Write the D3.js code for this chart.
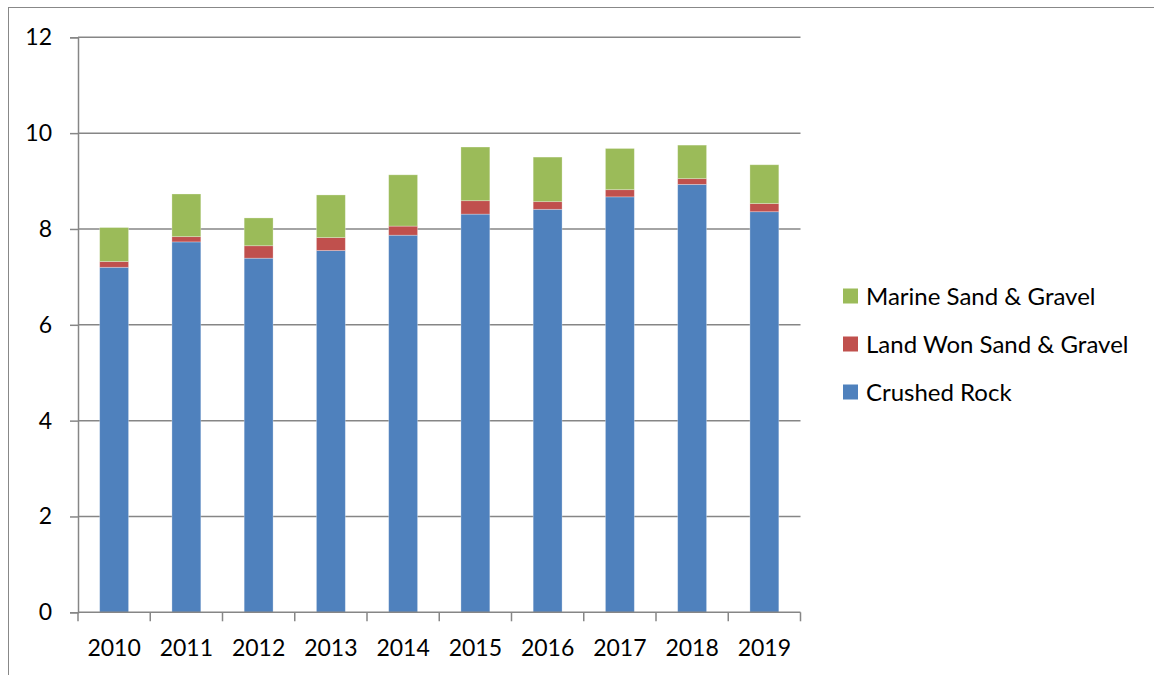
<html>
<head>
<script src="https://cdn.jsdelivr.net/npm/d3@7/dist/d3.min.js"></script>
<style>
  body { margin: 0; background: #fff; }
  text { font-family: Lato, "Open Sans", sans-serif; fill: #000; }
</style>
</head>
<body>
<script>
// data (million tonnes)
var years = ["2010", "2011", "2012", "2013", "2014", "2015", "2016", "2017", "2018", "2019"];
var crushedRock = [7.20, 7.73, 7.39, 7.55, 7.87, 8.31, 8.41, 8.67, 8.93, 8.36];
var landWon = [0.12, 0.11, 0.26, 0.27, 0.19, 0.28, 0.16, 0.15, 0.12, 0.17];
var marine = [0.71, 0.89, 0.58, 0.89, 1.07, 1.12, 0.93, 0.86, 0.70, 0.81];
var yTicks = [0, 2, 4, 6, 8, 10, 12];

var seriesNames = ["Crushed Rock", "Land Won Sand & Gravel", "Marine Sand & Gravel"];
var colors = ["#4F81BD", "#C0504D", "#9BBB59"];

var width = 1154, height = 675;
var svg = d3.select("body").append("svg")
    .attr("width", width)
    .attr("height", height);

// outer chart border
svg.append("rect")
    .attr("x", 8.5).attr("y", 7.5)
    .attr("width", 1160).attr("height", 700)
    .attr("fill", "none")
    .attr("stroke", "#888")
    .attr("stroke-width", 1);

var plotLeft = 78, plotRight = 800.5, plotTop = 37.3, plotBottom = 612.3;

var x = d3.scaleBand()
    .domain(years)
    .range([plotLeft, plotRight])
    .paddingInner(0.6)
    .paddingOuter(0.3);

var y = d3.scaleLinear()
    .domain([0, 12])
    .range([plotBottom, plotTop]);

// gridlines
svg.append("g")
    .selectAll("line")
    .data(yTicks.filter(function(d) { return d > 0; }))
    .enter().append("line")
    .attr("x1", plotLeft).attr("x2", plotRight)
    .attr("y1", function(d) { return y(d); })
    .attr("y2", function(d) { return y(d); })
    .attr("stroke", "#868686")
    .attr("stroke-width", 1.5);

// stack the three series
var rows = years.map(function(yr, i) {
    return { year: yr, "Crushed Rock": crushedRock[i], "Land Won Sand & Gravel": landWon[i], "Marine Sand & Gravel": marine[i] };
});
var stacked = d3.stack().keys(seriesNames)(rows);

svg.append("g")
    .selectAll("g")
    .data(stacked)
    .enter().append("g")
    .attr("fill", function(d, i) { return colors[i]; })
    .selectAll("rect")
    .data(function(d) { return d; })
    .enter().append("rect")
    .attr("x", function(d) { return x(d.data.year); })
    .attr("y", function(d) { return y(d[1]); })
    .attr("width", x.bandwidth())
    .attr("height", function(d) { return y(d[0]) - y(d[1]); })
    .attr("stroke", "#fff")
    .attr("stroke-opacity", 0.35)
    .attr("stroke-width", 0.8);

// y axis
var yAxis = d3.axisLeft(y).tickValues(yTicks).tickSize(8).tickPadding(18).tickFormat(d3.format("d"));
var gy = svg.append("g")
    .attr("transform", "translate(" + plotLeft + ",0)")
    .call(yAxis);
gy.select(".domain").attr("stroke", "#868686").attr("stroke-width", 1.5);
gy.selectAll(".tick line").attr("stroke", "#868686").attr("stroke-width", 1.5);
gy.selectAll(".tick text").style("font-size", "23px").attr("fill", "#000");

// x axis: ticks sit between the categories
var xAxisG = svg.append("g").attr("transform", "translate(0," + plotBottom + ")");
xAxisG.append("line")
    .attr("x1", plotLeft).attr("x2", plotRight)
    .attr("stroke", "#868686").attr("stroke-width", 1.5);
var step = (plotRight - plotLeft) / years.length;
xAxisG.selectAll(".xtick")
    .data(d3.range(years.length + 1))
    .enter().append("line")
    .attr("x1", function(d) { return plotLeft + d * step; })
    .attr("x2", function(d) { return plotLeft + d * step; })
    .attr("y1", 0).attr("y2", 9)
    .attr("stroke", "#868686").attr("stroke-width", 1.5);
xAxisG.selectAll(".xlabel")
    .data(years)
    .enter().append("text")
    .attr("x", function(d) { return x(d) + x.bandwidth() / 2; })
    .attr("y", 43.5)
    .attr("text-anchor", "middle")
    .style("font-size", "23px")
    .text(function(d) { return d; });

// legend (reverse order, Marine on top)
var legend = svg.append("g").attr("transform", "translate(843,296)");
var legendOrder = [2, 1, 0];
legendOrder.forEach(function(s, i) {
    var g = legend.append("g").attr("transform", "translate(0," + (i * 48) + ")");
    g.append("rect")
        .attr("x", 0).attr("y", -7.5)
        .attr("width", 15).attr("height", 15)
        .attr("fill", colors[s]);
    g.append("text")
        .attr("x", 23).attr("y", 8.5)
        .style("font-size", "24px")
        .text(seriesNames[s]);
});
</script>
</body>
</html>
